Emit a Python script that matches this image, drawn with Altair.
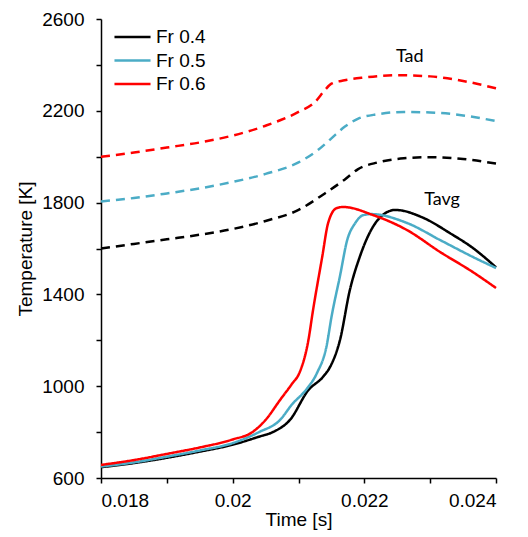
import altair as alt
import pandas as pd

# ---- data ----
series_names = ["Fr 0.4", "Fr 0.5", "Fr 0.6"]
series_colors = ["#000000", "#4BACC6", "#FF0000"]

# Adiabatic temperature (dashed)
tad_t_04 = [0.018, 0.0185, 0.019, 0.0195, 0.020, 0.0205, 0.0210, 0.0214, 0.0217, 0.0219, 0.0222, 0.0226, 0.0230, 0.0235, 0.0240]
tad_T_04 = [1600, 1620, 1640, 1660, 1685, 1720, 1768, 1840, 1900, 1945, 1975, 1993, 1998, 1990, 1970]

tad_t_05 = [0.018, 0.0185, 0.019, 0.0195, 0.020, 0.0205, 0.0210, 0.0213, 0.0215, 0.0217, 0.0219, 0.0222, 0.0226, 0.0230, 0.0235, 0.0240]
tad_T_05 = [1805, 1820, 1840, 1862, 1890, 1925, 1975, 2030, 2080, 2130, 2165, 2185, 2195, 2193, 2180, 2155]

tad_t_06 = [0.018, 0.0185, 0.019, 0.0195, 0.020, 0.0205, 0.0210, 0.02125, 0.0214, 0.0215, 0.0217, 0.0220, 0.0225, 0.0230, 0.0235, 0.0240]
tad_T_06 = [2000, 2018, 2040, 2062, 2092, 2135, 2195, 2238, 2290, 2318, 2333, 2345, 2355, 2350, 2330, 2298]

# Average temperature (solid)
tavg_t_04 = [0.018, 0.0185, 0.019, 0.0195, 0.020, 0.0204, 0.02061, 0.02087, 0.02115, 0.02137, 0.02148, 0.02163, 0.02178, 0.02193, 0.02213, 0.02228, 0.02247, 0.0229, 0.0233, 0.02365, 0.0240]
tavg_T_04 = [647, 665, 688, 715, 745, 780, 800, 853, 983, 1040, 1084, 1201, 1419, 1563, 1694, 1746, 1768, 1733, 1667, 1602, 1518]

tavg_t_05 = [0.018, 0.0185, 0.019, 0.0195, 0.020, 0.0204, 0.02072, 0.0209, 0.02113, 0.02128, 0.02143, 0.0215, 0.02163, 0.02174, 0.02186, 0.02198, 0.0221, 0.02265, 0.02315, 0.02365, 0.0240]
tavg_T_05 = [650, 668, 693, 720, 752, 800, 853, 920, 990, 1057, 1180, 1300, 1480, 1637, 1710, 1745, 1750, 1711, 1637, 1563, 1515]

tavg_t_06 = [0.018, 0.0185, 0.019, 0.0195, 0.020, 0.0203, 0.0205, 0.02072, 0.0209, 0.02102, 0.02115, 0.02122, 0.02136, 0.02145, 0.02158, 0.02168, 0.02213, 0.02265, 0.02315, 0.02365, 0.0240]
tavg_T_06 = [657, 678, 705, 733, 768, 800, 853, 940, 1010, 1062, 1200, 1330, 1563, 1711, 1776, 1781, 1746, 1680, 1585, 1497, 1428]

label_text = ["Tad", "Tavg"]
label_t = [0.02269, 0.02318]
label_T = [2434, 1811]

x_ticks = [0.018, 0.019, 0.020, 0.021, 0.022, 0.023, 0.024]
y_ticks = [600, 800, 1000, 1200, 1400, 1600, 1800, 2000, 2200, 2400, 2600]

# ---- build table ----
rows = []
def add(name, kind, ts, Ts):
    for i, (t, T) in enumerate(zip(ts, Ts)):
        rows.append({"series": name, "kind": kind, "t": t, "T": T, "order": i})

add("Fr 0.4", "Tad", tad_t_04, tad_T_04)
add("Fr 0.5", "Tad", tad_t_05, tad_T_05)
add("Fr 0.6", "Tad", tad_t_06, tad_T_06)
add("Fr 0.4", "Tavg", tavg_t_04, tavg_T_04)
add("Fr 0.5", "Tavg", tavg_t_05, tavg_T_05)
add("Fr 0.6", "Tavg", tavg_t_06, tavg_T_06)
df = pd.DataFrame(rows)
df["key"] = df["series"] + "_" + df["kind"]

labels_df = pd.DataFrame({"text": label_text, "t": label_t, "T": label_T})

FONT = "Liberation Sans"

x_enc = alt.X("t:Q", title="Time [s]",
              scale=alt.Scale(domain=[0.018, 0.024], nice=False, zero=False),
              axis=alt.Axis(values=x_ticks, grid=False, tickSize=5,
                            labelExpr="round(datum.value*1000)%2==0 ? format(datum.value,'~g') : ''",
                            labelPadding=8, titlePadding=0))
y_enc = alt.Y("T:Q", title="Temperature [K]",
              scale=alt.Scale(domain=[600, 2600], nice=False, zero=False),
              axis=alt.Axis(values=y_ticks, grid=False, tickSize=5,
                            labelExpr="(datum.value-600)%400==0 ? format(datum.value,'d') : ''",
                            labelPadding=12, titlePadding=6))

lines = alt.Chart(df).mark_line(interpolate="monotone", strokeWidth=2.5).encode(
    x=x_enc,
    y=y_enc,
    color=alt.Color("series:N", scale=alt.Scale(domain=series_names, range=series_colors),
                    legend=alt.Legend(title=None, orient="none", legendX=12, legendY=7,
                                      padding=0, clipHeight=22,
                                      symbolType="stroke", symbolSize=1300,
                                      symbolStrokeWidth=2.5, labelFontSize=19,
                                      labelFont=FONT, rowPadding=1.5, labelOffset=4)),
    strokeDash=alt.StrokeDash("kind:N", scale=alt.Scale(domain=["Tad", "Tavg"], range=[[9, 6], [1, 0]]),
                              legend=None),
    detail="key:N",
    order="order:Q",
)

texts = alt.Chart(labels_df).mark_text(fontSize=18, font="Lato", color="#000000").encode(
    x="t:Q", y="T:Q", text="text:N"
)

chart = alt.layer(lines, texts).properties(
    width=395, height=459,
    autosize=alt.AutoSizeParams(type="none"),
    padding={"left": 93, "top": 11, "right": 20, "bottom": 58},
).configure_view(stroke=None).configure_axis(
    domainColor="#000000", tickColor="#000000", domainWidth=1.5, tickWidth=1.5,
    labelFont=FONT, titleFont=FONT, labelFontSize=19, titleFontSize=19,
    labelColor="#000000", titleColor="#000000", titleFontWeight="normal",
)

chart.save("out.html", embed_options={"renderer": "svg", "actions": False})
